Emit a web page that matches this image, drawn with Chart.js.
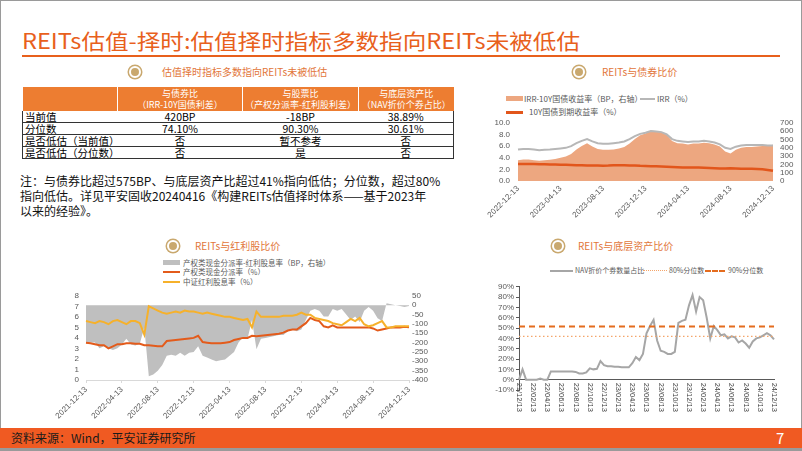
<!DOCTYPE html>
<html>
<head>
<meta charset="utf-8">
<title>REITs估值-择时</title>
<script src="https://cdn.jsdelivr.net/npm/chart.js@4.4.1/dist/chart.umd.min.js"></script>
<style>
  html, body { margin: 0; padding: 0; background: #fff; }
  #page { position: relative; width: 802px; height: 451px; overflow: hidden; background: #fff;
          font-family: "Noto Sans CJK SC", "Liberation Sans", sans-serif; }
  #frame { position: absolute; left: 0; top: 0; width: 800px; height: 449px; border: 1px solid #9a9a9a; }
  .t { position: absolute; white-space: nowrap; line-height: 1; }
  #title { left: 22px; top: 30px; font-size: 21px; color: #E8601C; transform-origin: 0 0; }
  #rule { position: absolute; left: 22px; top: 55px; width: 758px; height: 2px; background: #E8601C; }
  .icon { position: absolute; width: 8px; height: 8px; border-radius: 50%; background: #C9A86E;
          border: 2px solid #fff; box-shadow: 0 0 0 1.5px #C9A86E; }
  .sec { font-size: 10px; color: #E2763A; }
  #tbl { position: absolute; left: 22px; top: 87px; width: 431px; border-collapse: collapse;
         table-layout: fixed; font-size: 10.5px; }
  #tbl th { background: #ED7D31; color: #fff; font-weight: normal; font-size: 9px; height: 24px; line-height: 11px;
            padding: 0; border-right: 1px solid #fff; white-space: nowrap; }
  #tbl th:last-child { border-right: none; }
  #tbl td { height: 11px; line-height: 11px; padding: 0; text-align: center; border-bottom: 1px solid #333;
            white-space: nowrap; }
  #tbl td.l { text-align: left; padding-left: 2px; border-left: 1px solid #333; }
  #tbl td.r { border-right: 1px solid #333; }
  #note { position: absolute; left: 20px; top: 173px; font-size: 12px; line-height: 15px; color: #111; white-space: nowrap; }
  .leg { font-size: 7.5px; color: #595959; }
  .sw { position: absolute; }
  #bar { position: absolute; left: 0; top: 428px; width: 802px; height: 20px; background: #F05A22; }
  #src { left: 11px; top: 432px; font-size: 12px; color: #1a1a1a; }
  #pno { left: 776px; top: 430px; font-size: 15px; color: #fff; }
  #foot { position: absolute; left: 0; top: 448px; width: 802px; height: 3px; background: #9a9a9a; }
  canvas { position: absolute; }
</style>
</head>
<body>
<div id="page">
  <div id="frame"></div>
  <div class="t" id="title">REITs估值-择时:估值择时指标多数指向REITs未被低估</div>
  <div id="rule"></div>

  <div class="icon" style="left:129px;top:66px"></div>
  <div class="t sec" style="left:162px;top:67px">估值择时指标多数指向REITs未被低估</div>
  <div class="icon" style="left:573px;top:66px"></div>
  <div class="t sec" style="left:602px;top:67px">REITs与债券比价</div>
  <div class="icon" style="left:167px;top:240px"></div>
  <div class="t sec" style="left:195px;top:241px">REITs与红利股比价</div>
  <div class="icon" style="left:552px;top:240px"></div>
  <div class="t sec" style="left:578px;top:241px">REITs与底层资产比价</div>

  <table id="tbl">
    <colgroup><col style="width:95px"><col style="width:125px"><col style="width:116px"><col style="width:95px"></colgroup>
    <tr><th></th><th>与债券比<br>（IRR-10Y国债利差）</th><th>与股票比<br>（产权分派率-红利股利差）</th><th>与底层资产比<br>（NAV折价个券占比）</th></tr>
    <tr><td class="l">当前值</td><td>420BP</td><td>-18BP</td><td class="r">38.89%</td></tr>
    <tr><td class="l">分位数</td><td>74.10%</td><td>90.30%</td><td class="r">30.61%</td></tr>
    <tr><td class="l">是否低估（当前值）</td><td>否</td><td>暂不参考</td><td class="r">否</td></tr>
    <tr><td class="l">是否低估（分位数）</td><td>否</td><td>是</td><td class="r">否</td></tr>
  </table>

  <div id="note">注：与债券比超过575BP、与底层资产比超过41%指向低估；分位数，超过80%<br>指向低估。详见平安固收20240416《构建REITs估值择时体系——基于2023年<br>以来的经验》。</div>

  <!-- legend A -->
  <div class="sw" style="left:506px;top:96px;width:17px;height:5px;background:#EDA780"></div>
  <div class="t leg" style="left:524px;top:94.5px;font-size:8px">IRR-10Y国债收益率（BP，右轴）</div>
  <div class="sw" style="left:640px;top:97.5px;width:15px;height:2px;background:#B7B7B7"></div>
  <div class="t leg" style="left:657px;top:94.5px;font-size:8px">IRR（%）</div>
  <div class="sw" style="left:506px;top:110.5px;width:17px;height:3px;background:#E2561B"></div>
  <div class="t leg" style="left:529px;top:108px;font-size:8px">10Y国债到期收益率（%）</div>

  <!-- legend B -->
  <div class="sw" style="left:163px;top:260px;width:17px;height:5px;background:#BFBFBF"></div>
  <div class="t leg" style="left:183px;top:258.5px">产权类现金分派率-红利股息率（BP，右轴）</div>
  <div class="sw" style="left:163px;top:270.5px;width:17px;height:2.5px;background:#E35B1B"></div>
  <div class="t leg" style="left:183px;top:268px">产权类现金分派率（%）</div>
  <div class="sw" style="left:163px;top:280.5px;width:17px;height:2.5px;background:#F6B12B"></div>
  <div class="t leg" style="left:183px;top:278px">中证红利股息率（%）</div>

  <!-- legend C -->
  <div class="sw" style="left:550px;top:269.5px;width:23px;height:2px;background:#A6A6A6"></div>
  <div class="t leg" style="left:575px;top:267px;font-size:7px">NAV折价个券数量占比</div>
  <div class="sw" style="left:643px;top:270px;width:24px;height:0;border-top:1.5px dotted #F4A56A"></div>
  <div class="t leg" style="left:669px;top:267px;font-size:7px">80%分位数</div>
  <div class="sw" style="left:705px;top:269.5px;width:20px;height:0;border-top:2px dashed #E46C1E"></div>
  <div class="t leg" style="left:728px;top:267px;font-size:7px">90%分位数</div>

  <canvas id="chartA" width="330" height="112" style="left:470px;top:110px"></canvas>
  <canvas id="chartB" width="410" height="140" style="left:30px;top:284px"></canvas>
  <canvas id="chartC" width="320" height="136" style="left:470px;top:280px"></canvas>

  <div id="bar"></div>
  <div class="t" id="src">资料来源：Wind，平安证券研究所</div>
  <div class="t" id="pno">7</div>
  <div id="foot"></div>
</div>

<script>
// half-month date categories, 13th and 28th of each month
function halfMonths(y, m, n) {
  const out = [];
  for (let i = 0; i < n; i++) {
    const mm = m + Math.floor(i / 2);
    const yy = y + Math.floor((mm - 1) / 12);
    const mo = ((mm - 1) % 12) + 1;
    out.push(`${yy}-${String(mo).padStart(2, '0')}-${i % 2 ? '28' : '13'}`);
  }
  return out;
}

// ---- REITs与债券比价 ----
const aDates = halfMonths(2022, 12, 49);
const aTicks = ['2022-12-13', '2023-04-13', '2023-08-13', '2023-12-13', '2024-04-13', '2024-08-13', '2024-12-13'];
const aIRR = [5.4, 5.5, 5.5, 5.4, 5.3, 5.35, 5.4, 5.5, 5.6, 5.7, 6.0, 6.5, 6.9, 7.2, 6.8, 6.5, 6.4, 6.4, 6.5, 6.6,
  6.8, 7.2, 7.7, 8.1, 8.3, 8.6, 8.5, 8.4, 8.0, 7.2, 6.9, 6.8, 6.7, 6.8, 6.8, 6.9, 6.8, 6.6, 6.3, 5.7,
  5.5, 5.9, 6.1, 6.2, 6.2, 6.2, 6.2, 6.1, 6.1];
const a10Y = [2.9, 2.9, 2.9, 2.9, 2.88, 2.87, 2.85, 2.83, 2.8, 2.78, 2.75, 2.72, 2.7, 2.68, 2.65, 2.65, 2.63, 2.65, 2.7, 2.7,
  2.7, 2.68, 2.67, 2.6, 2.58, 2.55, 2.52, 2.48, 2.45, 2.4, 2.35, 2.32, 2.3, 2.3, 2.3, 2.28, 2.25, 2.2, 2.15, 2.15,
  2.18, 2.15, 2.12, 2.12, 2.1, 2.05, 2.0, 1.9, 1.75];
const aSpread = [250, 260, 260, 250, 245, 250, 255, 265, 280, 295, 325, 380, 420, 455, 415, 385, 375, 375, 380, 390,
  410, 450, 505, 550, 570, 605, 600, 590, 555, 480, 455, 450, 440, 450, 450, 460, 455, 440, 415, 355,
  330, 375, 400, 410, 410, 415, 420, 420, 435];

// ---- REITs与红利股比价 ----
const bDates = halfMonths(2021, 12, 73);
const bTicks = ['2021-12-13', '2022-04-13', '2022-08-13', '2022-12-13', '2023-04-13', '2023-08-13',
  '2023-12-13', '2024-04-13', '2024-08-13', '2024-12-13'];
const bYield = [5.6, 5.5, 5.4, 5.6, 5.5, 5.3, 5.6, 5.7, 5.5, 5.3, 5.6, 5.6, 5.4,
  4.3, 7.0, 6.8, 6.6, 6.4, 6.3, 6.4, 6.5, 6.4, 6.6, 6.5, 6.5,
  6.4, 6.3, 6.4, 6.3, 6.2, 6.1, 6.0, 6.0, 5.9, 5.8, 5.7, 5.8,
  5.0, 6.5, 6.0, 6.0, 6.0, 6.0, 6.0, 6.1, 6.1, 6.1, 6.2, 6.4,
  6.2, 6.2, 5.9, 5.8, 5.7, 5.6, 5.4, 5.3, 5.2, 5.5, 5.8, 5.6,
  5.9, 5.3, 5.1, 5.2, 5.4, 5.6, 5.0, 5.0, 5.1, 5.1, 5.1, 5.1];
const bDist = [3.55, 3.5, 3.4, 3.3, 3.3, 3.0, 3.2, 3.4, 3.4, 3.5, 3.5, 3.45, 3.45,
  3.3, 3.3, 3.25, 3.2, 3.2, 3.7, 3.75, 3.8, 3.85, 3.9, 3.95, 4.0,
  4.2, 3.6, 3.55, 3.5, 3.5, 3.5, 3.55, 3.6, 3.8, 3.9, 4.0, 4.0,
  4.2, 4.15, 4.2, 4.25, 4.3, 4.35, 4.4, 4.5, 4.7, 4.8, 4.8, 5.1,
  5.4, 5.9, 5.7, 5.6, 5.1, 5.0, 5.2, 5.0, 5.0, 5.0, 5.0, 5.0,
  5.0, 5.0, 5.0, 4.9, 4.7, 4.8, 4.9, 5.0, 5.0, 5.0, 5.05, 5.0];
const bGap = [-205, -200, -200, -230, -220, -230, -240, -230, -210, -180, -210, -215, -205,
  -120, -380, -370, -350, -320, -270, -265, -270, -255, -270, -255, -250,
  -220, -270, -280, -290, -300, -295, -290, -270, -250, -200, -170, -180,
  -80, -235, -180, -175, -170, -165, -160, -160, -140, -130, -140, -130,
  -80, -30, -20, -30, -60, -60, -20, -30, -20, -50, -80, -60,
  -90, -30, -10, -30, -70, -85, 10, 5, 0, -5, -10, -5];

// ---- REITs与底层资产比价 ----
const cDates = halfMonths(2021, 12, 73);
const cTicks = ['21/12/13', '22/02/13', '22/04/13', '22/06/13', '22/08/13', '22/10/13', '22/12/13',
  '23/02/13', '23/04/13', '23/06/13', '23/08/13', '23/10/13', '23/12/13', '24/02/13', '24/04/13',
  '24/06/13', '24/08/13', '24/10/13', '24/12/13'];
const cNav = [0, 10, 0, 0, 0, 0, 1, 0, 0, 8, 8, 8, 8,
  8, 8, 8, 7.5, 6, 6, 7, 11, 10, 10.5, 18, 14,
  13, 13, 12.5, 12.5, 12, 12, 12, 16, 22, 19, 25, 45,
  52, 58, 38, 28, 27, 25, 25, 27, 55, 57, 58, 72,
  82, 66, 80, 77, 60, 40, 52, 48, 43, 44, 40, 42,
  41, 36, 38, 35, 31, 37, 40, 41, 43, 45, 43, 39];
const cP80 = 42;
const cP90 = 51.5;

const tickFont = { family: 'Liberation Sans', size: 8 };
const tickColor = '#595959';
const noGrid = { display: false, drawTicks: false };
const base = {
  responsive: false,
  animation: false,
  plugins: { legend: { display: false }, tooltip: { enabled: false } }
};

new Chart(document.getElementById('chartA'), {
  type: 'line',
  data: {
    labels: aDates,
    datasets: [
      { label: '10Y国债到期收益率（%）', data: a10Y, yAxisID: 'y', borderColor: '#E2561B', borderWidth: 2.5, pointRadius: 0, order: 0 },
      { label: 'IRR（%）', data: aIRR, yAxisID: 'y', borderColor: '#B7B7B7', borderWidth: 2, pointRadius: 0, order: 1 },
      { label: 'IRR-10Y国债收益率（BP，右轴）', data: aSpread, yAxisID: 'y1', borderWidth: 0, borderColor: 'rgba(0,0,0,0)',
        backgroundColor: '#EDA780', fill: 'origin', pointRadius: 0, order: 2 }
    ]
  },
  options: {
    ...base,
    layout: { padding: { top: 6 } },
    scales: {
      x: {
        grid: noGrid, border: { display: false },
        ticks: {
          autoSkip: false, minRotation: 45, maxRotation: 45, padding: 3, color: tickColor, font: tickFont,
          callback(v) { const l = this.getLabelForValue(v); return aTicks.includes(l) ? l : ''; }
        },
        afterFit(s) { s.height = 41; }
      },
      y: {
        position: 'left', min: 0, max: 10, grid: noGrid, border: { display: false },
        ticks: { autoSkip: false, stepSize: 2, padding: 8, color: tickColor, font: tickFont, callback: v => v.toFixed(1) },
        afterFit(s) { s.width = 48; }
      },
      y1: {
        position: 'right', min: 0, max: 700, grid: noGrid, border: { display: false },
        ticks: { autoSkip: false, stepSize: 100, padding: 7, color: tickColor, font: tickFont },
        afterFit(s) { s.width = 27; }
      }
    }
  }
});

new Chart(document.getElementById('chartB'), {
  type: 'line',
  data: {
    labels: bDates,
    datasets: [
      { label: '中证红利股息率（%）', data: bYield, yAxisID: 'y', borderColor: '#F6B12B', borderWidth: 2, pointRadius: 0, order: 0 },
      { label: '产权类现金分派率（%）', data: bDist, yAxisID: 'y', borderColor: '#E35B1B', borderWidth: 2, pointRadius: 0, order: 1 },
      { label: '产权类现金分派率-红利股息率（BP，右轴）', data: bGap, yAxisID: 'y1', borderWidth: 0, borderColor: 'rgba(0,0,0,0)',
        backgroundColor: '#BFBFBF', fill: 'origin', pointRadius: 0, order: 2 }
    ]
  },
  options: {
    ...base,
    layout: { padding: { top: 6 } },
    scales: {
      x: {
        grid: {
          display: true, drawOnChartArea: false, drawTicks: true, tickLength: 3,
          color: ctx => bTicks.includes(bDates[ctx.index]) ? '#D9D9D9' : 'rgba(0,0,0,0)'
        },
        border: { display: true, color: '#D9D9D9' },
        ticks: {
          autoSkip: false, minRotation: 45, maxRotation: 45, padding: 2, color: tickColor, font: tickFont,
          callback(v) { const l = this.getLabelForValue(v); return bTicks.includes(l) ? l : ''; }
        },
        afterFit(s) { s.height = 44; }
      },
      y: {
        position: 'left', min: 0, max: 8, grid: noGrid, border: { display: false },
        ticks: { autoSkip: false, stepSize: 1, padding: 7, color: tickColor, font: tickFont },
        afterFit(s) { s.width = 56; }
      },
      y1: {
        position: 'right', min: -400, max: 50, grid: noGrid, border: { display: false },
        ticks: { autoSkip: false, stepSize: 50, padding: 3, color: tickColor, font: tickFont },
        afterFit(s) { s.width = 31; }
      }
    }
  }
});

// vertical date labels hanging under the 0% line
const cDateLabels = {
  id: 'cDateLabels',
  afterDraw(chart) {
    const { ctx, scales: { x, y } } = chart;
    const y0 = y.getPixelForValue(0);
    ctx.save();
    ctx.font = '7.5px "Liberation Sans"';
    ctx.fillStyle = '#404040';
    ctx.textAlign = 'left';
    ctx.textBaseline = 'middle';
    cDates.forEach((d, i) => {
      const lab = d.slice(2).replace(/-/g, '/');
      if (!cTicks.includes(lab)) return;
      ctx.save();
      ctx.translate(x.getPixelForValue(i), y0 + 3);
      ctx.rotate(Math.PI / 2);
      ctx.fillText(lab, 0, 0);
      ctx.restore();
    });
    ctx.restore();
  }
};

new Chart(document.getElementById('chartC'), {
  type: 'line',
  data: {
    labels: cDates,
    datasets: [
      { label: '90%分位数', data: new Array(cDates.length).fill(cP90), borderColor: '#E46C1E', borderWidth: 2,
        borderDash: [6, 4], pointRadius: 0, order: 0 },
      { label: '80%分位数', data: new Array(cDates.length).fill(cP80), borderColor: '#F4A56A', borderWidth: 1.2,
        borderDash: [1.5, 2.5], pointRadius: 0, order: 1 },
      { label: 'NAV折价个券数量占比', data: cNav, borderColor: '#A6A6A6', borderWidth: 2, pointRadius: 0, order: 2 }
    ]
  },
  options: {
    ...base,
    layout: { padding: { top: 6, right: 16, bottom: 26 } },
    scales: {
      x: {
        position: { y: 0 }, grid: { display: false }, ticks: { display: false },
        border: { display: true, color: '#595959' }
      },
      y: {
        min: -10, max: 90,
        grid: { display: true, drawOnChartArea: false, drawTicks: true, tickLength: 3, color: '#595959' },
        border: { display: true, color: '#595959' },
        ticks: { autoSkip: false, stepSize: 10, padding: 2, color: tickColor, font: tickFont, callback: v => v + '%' },
        afterFit(s) { s.width = 49; }
      }
    }
  },
  plugins: [cDateLabels]
});

// squeeze the title to the slide's width
const title = document.getElementById('title');
const tw = title.getBoundingClientRect().width;
title.style.transform = `scaleX(${558 / tw})`;
</script>
</body>
</html>
